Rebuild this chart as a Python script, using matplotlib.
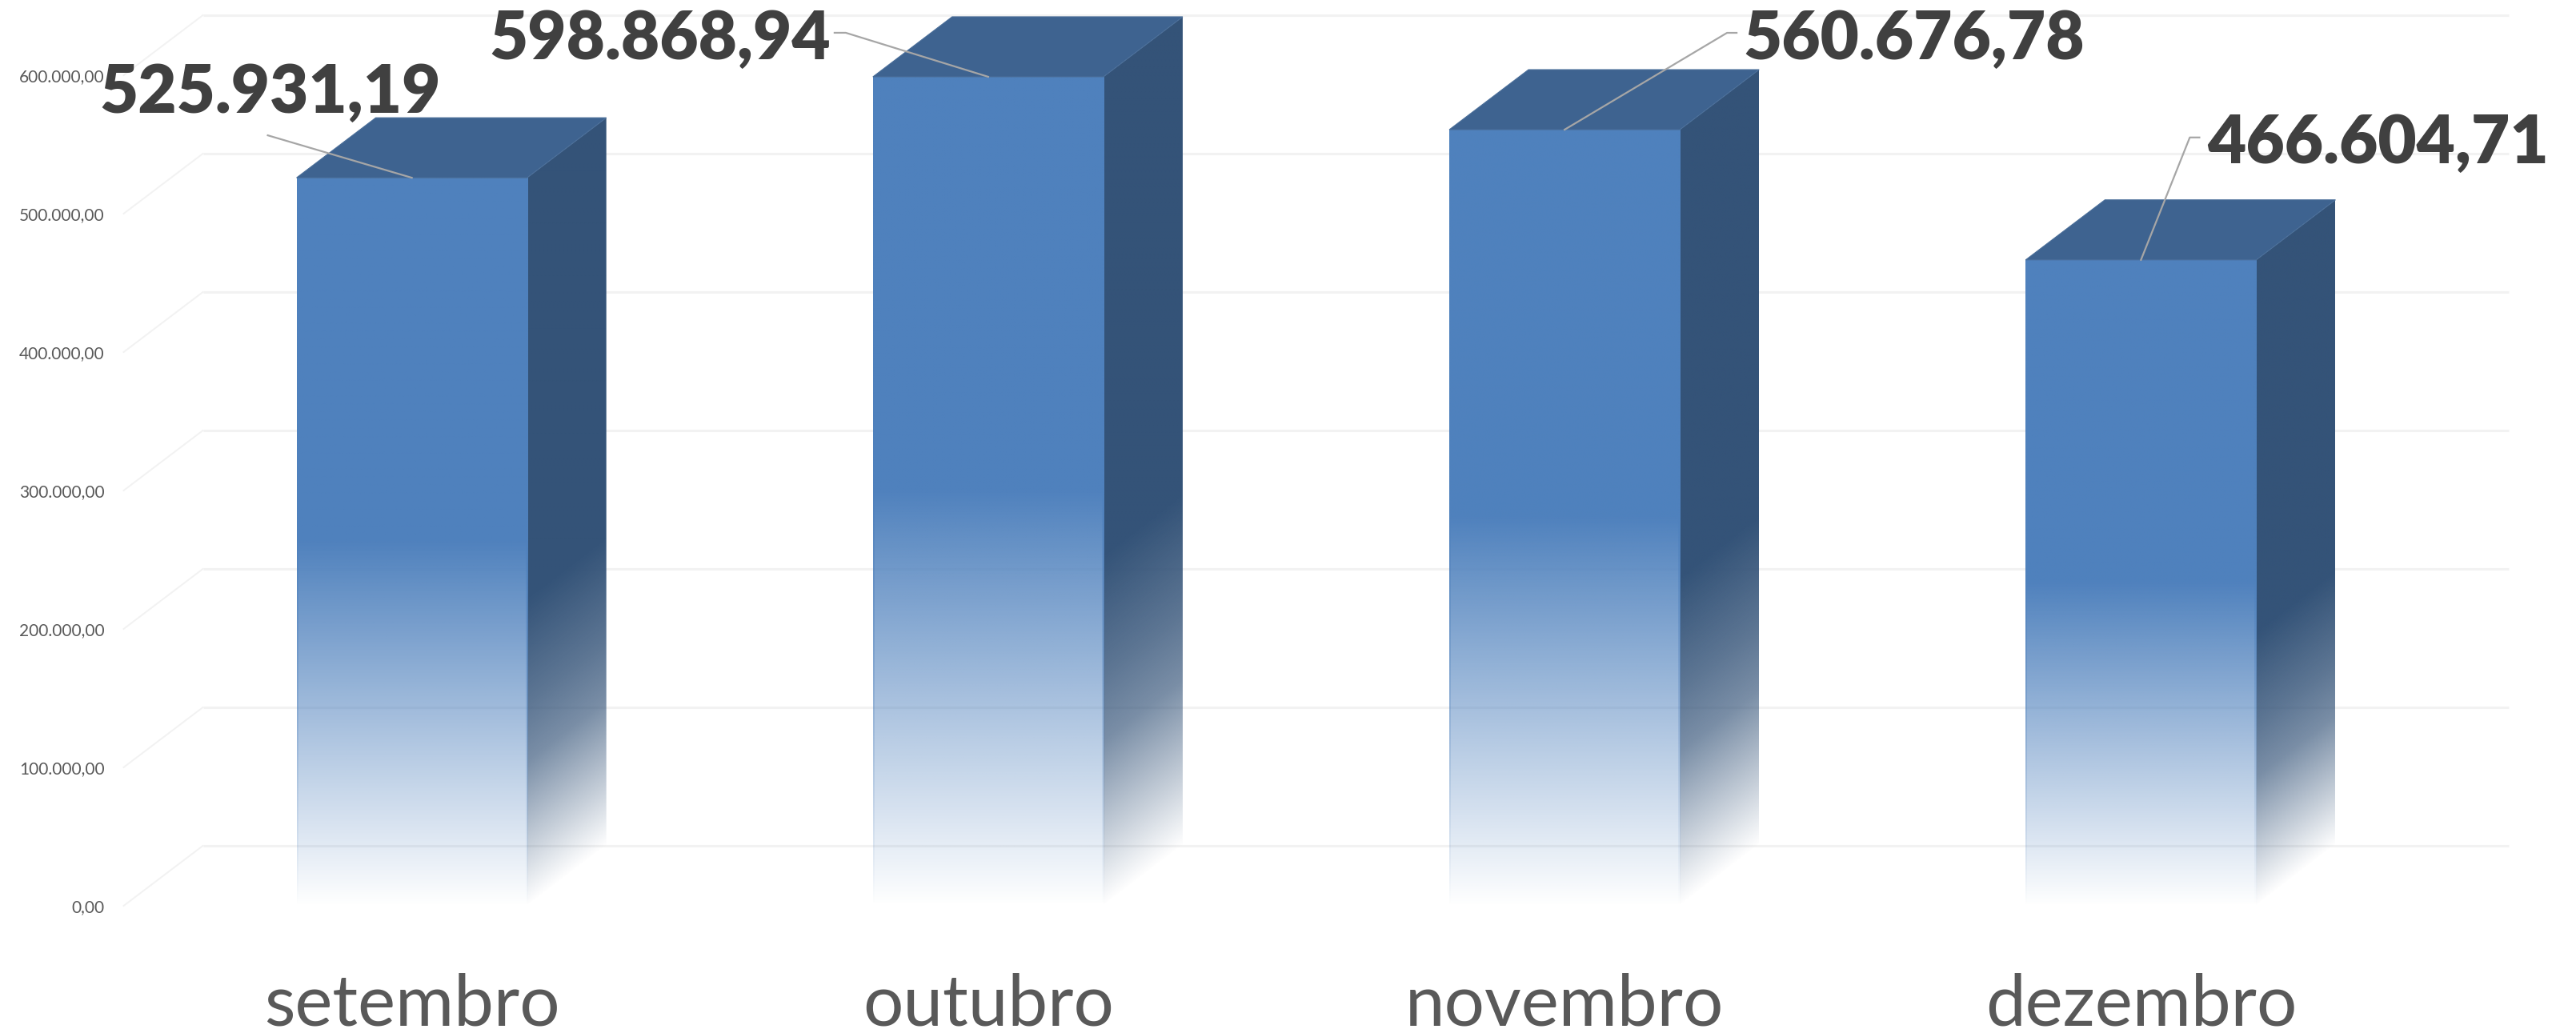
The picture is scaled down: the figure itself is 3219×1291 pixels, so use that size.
import numpy as np
import matplotlib
matplotlib.use('Agg')
import matplotlib.pyplot as plt
from matplotlib.colors import to_rgb
from matplotlib.patches import Polygon

months = ['setembro', 'outubro', 'novembro', 'dezembro']
values = [525931.19, 598868.94, 560676.78, 466604.71]
value_labels = ['525.931,19', '598.868,94', '560.676,78', '466.604,71']
yticks = [0, 100000, 200000, 300000, 400000, 500000, 600000]
ytick_labels = ['0,00', '100.000,00', '200.000,00', '300.000,00', '400.000,00', '500.000,00', '600.000,00']

# how far the labels and their leader lines sit from the bar top, in pixels
label_offsets = [(-390, 81), (-623, 22), (223, 88), (83, 121)]
leaders = [
    [(0, 0), (-180, 53)],
    [(0, 0), (-178, 55), (-192, 55)],
    [(0, 0), (203, 121), (215, 121)],
    [(0, 0), (61, 153), (73, 153)],
]

W, H = 3219, 1291
left, right, bottom = 154.5, 3035.5, 1132
px_per_cat = (right - left) / 4
px_per_val = 173 / 100000
depth_x = 99 / px_per_cat
depth_y = 75 / px_per_val
bar_w = 0.4

front_color = '#4F81BD'
side_color = '#345378'
top_color = '#3E6390'
grid_color = '#F2F2F2'


def fade_image(ax, x0, x1, top, color, fade, slope=0.0, scale=1.0):
    # slope shifts the fade along the depth of the side face
    xs = np.linspace(0, 1, 60)
    ys = np.linspace(0, top, 1000)
    xx, yy = np.meshgrid(xs, ys)
    rgba = np.zeros(xx.shape + (4,))
    rgba[..., :3] = to_rgb(color)
    rgba[..., 3] = fade((yy - xx * slope) / (top - slope)) * scale
    return ax.imshow(rgba, extent=(x0, x1, 0, top), origin='lower', aspect='auto',
                     interpolation='bilinear', zorder=3)


def front_fade(f):
    return np.clip(f * 2, 0, 1)


def side_fade(f):
    return np.interp(f, [0, 0.08, 0.2, 0.28, 0.35, 0.42], [0, 0.27, 0.66, 0.8, 0.9, 1])


fig = plt.figure(figsize=(W / 100, H / 100), dpi=100, facecolor='white')
ax = fig.add_axes([left / W, (H - bottom) / H, (right - left) / W, bottom / H])
for s in ax.spines.values():
    s.set_visible(False)

for t in yticks:
    ax.plot([-0.5 + depth_x, 3.5 + depth_x], [t + depth_y, t + depth_y], color=grid_color, lw=2.2,
            clip_on=False, zorder=1, solid_capstyle='butt')
    ax.plot([-0.5, -0.5 + depth_x], [t, t + depth_y], color=grid_color, lw=1.4, clip_on=False, zorder=1)

for i, v in enumerate(values):
    x0 = i - bar_w / 2
    x1 = i + bar_w / 2

    # side face first, clipped to its parallelogram
    side = fade_image(ax, x1, x1 + depth_x, v + depth_y, side_color, side_fade, slope=depth_y)
    side_shape = Polygon([(x1, 0), (x1 + depth_x, depth_y), (x1 + depth_x, v + depth_y), (x1, v)],
                         closed=True, transform=ax.transData, fc='none', ec='none')
    ax.add_patch(side_shape)
    side.set_clip_path(side_shape)

    fade_image(ax, x0, x1, v, front_color, front_fade)
    # slightly stronger edges on the front face
    edge = 2 / px_per_cat
    fade_image(ax, x0, x0 + edge, v, front_color, front_fade, scale=0.5)
    fade_image(ax, x1 - edge, x1, v, front_color, front_fade, scale=0.5)

    ax.add_patch(Polygon([(x0, v), (x1, v), (x1 + depth_x, v + depth_y), (x0 + depth_x, v + depth_y)],
                         closed=True, fc=top_color, ec='#4A6E99', lw=0.8, zorder=3))

    lx = [i + p[0] / px_per_cat for p in leaders[i]]
    ly = [v + p[1] / px_per_val for p in leaders[i]]
    ax.plot(lx, ly, color='#A6A6A6', lw=1.6, clip_on=False, zorder=4)

    ax.annotate(value_labels[i], xy=(i, v), xytext=label_offsets[i], textcoords='offset pixels',
                ha='left', va='baseline', fontsize=60, fontweight='heavy', family='Lato',
                color='#404040', annotation_clip=False, zorder=5)

ax.set_xlim(-0.5, 3.5)
ax.set_ylim(0, bottom / px_per_val)
ax.set_xticks(range(len(months)))
ax.set_xticklabels(months, fontsize=64, family='Lato', color='#595959')
ax.set_yticks(yticks)
ax.set_yticklabels(ytick_labels, fontsize=15, family='Lato', color='#595959')
ax.tick_params(axis='x', length=0, pad=60)
ax.tick_params(axis='y', length=0, pad=17)

fig.savefig('out.png', dpi=100, facecolor='white')
